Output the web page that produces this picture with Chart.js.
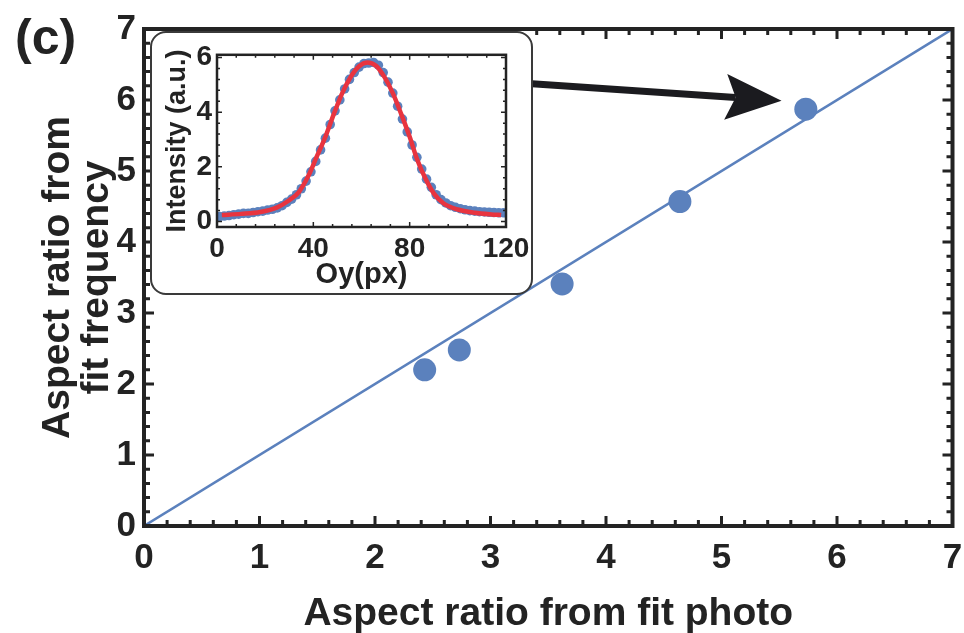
<!DOCTYPE html>
<html>
<head>
<meta charset="utf-8">
<script src="https://cdn.jsdelivr.net/npm/chart.js@4.4.1/dist/chart.umd.min.js"></script>
<style>
  body { margin: 0; background: #fff; }
  #wrap { position: relative; width: 964px; height: 633px; }
  #insetBox {
    position: absolute; left: 150px; top: 31px; width: 379px; height: 260px;
    border: 2px solid #3a3a3a; border-radius: 16px; background: #fff; overflow: hidden;
  }
</style>
</head>
<body>
<div id="wrap">
  <canvas id="mainChart" width="964" height="633"></canvas>
  <div id="insetBox"><canvas id="insetChart" width="379" height="260"></canvas></div>
</div>
<script>
/* main panel: aspect ratio from fit photo vs from fit frequency */
const photoRatio = [2.43, 2.73, 3.62, 4.64, 5.73];
const freqRatio = [2.20, 2.48, 3.41, 4.57, 5.87];
const refLineX = [0, 7];
const refLineY = [0, 7];
const mainTicks = [0, 1, 2, 3, 4, 5, 6, 7];

/* inset: intensity profile along Oy */
const profileX = [1, 3, 5, 7, 9, 11, 13, 15, 17, 19, 21, 23, 25, 27, 29, 31, 33, 35, 37, 39,
  41, 43, 45, 47, 49, 51, 53, 55, 57, 59, 61, 63, 65, 67, 69, 71, 73, 75, 77, 79,
  81, 83, 85, 87, 89, 91, 93, 95, 97, 99, 101, 103, 105, 107, 109, 111, 113, 115, 117, 119];
const profileY = [0.18, 0.20, 0.22, 0.25, 0.27, 0.30, 0.30, 0.33, 0.36, 0.38, 0.42, 0.45, 0.50, 0.58, 0.70, 0.82, 0.98, 1.20, 1.48, 1.82,
  2.20, 2.62, 3.05, 3.55, 4.05, 4.45, 4.85, 5.20, 5.45, 5.65, 5.78, 5.80, 5.82, 5.72, 5.45, 5.10, 4.70, 4.22, 3.75, 3.28,
  2.80, 2.35, 1.92, 1.55, 1.25, 0.98, 0.80, 0.68, 0.58, 0.52, 0.47, 0.43, 0.40, 0.38, 0.36, 0.35, 0.34, 0.33, 0.32, 0.32];
const fitX = [2, 10, 18, 25, 30, 34, 38, 41.5, 45, 48.5, 52, 55.5, 59, 62.5, 66, 69.5, 73, 76.5, 80, 83, 86.5, 90, 94, 100, 107, 114, 118];
const fitY = [0.24, 0.28, 0.35, 0.52, 0.78, 1.08, 1.68, 2.39, 3.10, 3.93, 4.70, 5.29, 5.68, 5.82, 5.70, 5.29, 4.70, 3.93, 3.10, 2.30, 1.58, 1.03, 0.67, 0.44, 0.32, 0.26, 0.24];
const insetXTicks = [0, 40, 80, 120];
const insetYTicks = [0, 2, 4, 6];

const arrowFrom = { x: 3.36, y: 6.23 };
const arrowTo = { x: 5.52, y: 5.99 };

const ink = '#232323';
const blue = '#5b81bd';
const red = '#e8343f';
const family = "'Liberation Sans', Arial, Helvetica, sans-serif";

const toPoints = (xs, ys) => xs.map((x, i) => ({ x: x, y: ys[i] }));

// frame round the plot area with inward ticks on all four sides
const frameTicks = {
  id: 'frameTicks',
  afterDatasetsDraw(chart, args, o) {
    const { ctx, chartArea: a, scales: { x, y } } = chart;
    const isMajor = (v, step) => Math.abs(v / step - Math.round(v / step)) < 1e-6;
    ctx.save();
    ctx.strokeStyle = ink;
    ctx.lineWidth = o.tickWidth;
    ctx.beginPath();
    for (let v = Math.ceil(x.min / o.xMinor) * o.xMinor; v <= x.max + 1e-9; v += o.xMinor) {
      const len = isMajor(v, o.xMajor) ? o.majorLen : o.minorLen;
      const px = x.getPixelForValue(v);
      ctx.moveTo(px, a.bottom); ctx.lineTo(px, a.bottom - len);
      ctx.moveTo(px, a.top); ctx.lineTo(px, a.top + len);
    }
    for (let v = Math.ceil(y.min / o.yMinor - 1e-6) * o.yMinor; v <= y.max + 1e-9; v += o.yMinor) {
      const len = isMajor(v, o.yMajor) ? o.majorLen : o.minorLen;
      const py = y.getPixelForValue(v);
      ctx.moveTo(a.left, py); ctx.lineTo(a.left + len, py);
      ctx.moveTo(a.right, py); ctx.lineTo(a.right - len, py);
    }
    ctx.stroke();
    ctx.lineWidth = o.frameWidth;
    ctx.strokeRect(a.left, a.top, a.right - a.left, a.bottom - a.top);
    ctx.restore();
  }
};

// thick arrow from the inset towards the last point
const arrowPlugin = {
  id: 'arrow',
  afterDatasetsDraw(chart) {
    const { ctx, scales: { x, y } } = chart;
    const x0 = x.getPixelForValue(arrowFrom.x), y0 = y.getPixelForValue(arrowFrom.y);
    const x1 = x.getPixelForValue(arrowTo.x), y1 = y.getPixelForValue(arrowTo.y);
    const ang = Math.atan2(y1 - y0, x1 - x0);
    const ux = Math.cos(ang), uy = Math.sin(ang);
    const nx = -uy, ny = ux;
    const headLen = 56, headHalf = 23, notch = 10;
    const bx = x1 - ux * headLen, by = y1 - uy * headLen;
    ctx.save();
    ctx.strokeStyle = '#1b1b1f';
    ctx.fillStyle = '#1b1b1f';
    ctx.lineWidth = 7;
    ctx.beginPath();
    ctx.moveTo(x0, y0);
    ctx.lineTo(bx + ux * notch, by + uy * notch);
    ctx.stroke();
    ctx.beginPath();
    ctx.moveTo(x1, y1);
    ctx.lineTo(bx + nx * headHalf, by + ny * headHalf);
    ctx.lineTo(bx + ux * notch, by + uy * notch);
    ctx.lineTo(bx - nx * headHalf, by - ny * headHalf);
    ctx.closePath();
    ctx.fill();
    ctx.restore();
  }
};

new Chart(document.getElementById('mainChart'), {
  type: 'scatter',
  data: {
    datasets: [{
      label: 'Aspect ratio',
      data: toPoints(photoRatio, freqRatio),
      backgroundColor: blue,
      borderColor: blue,
      pointRadius: 11.5,
      borderWidth: 0
    }, {
      label: 'y = x',
      data: toPoints(refLineX, refLineY),
      showLine: true,
      borderColor: blue,
      borderWidth: 2.5,
      pointRadius: 0
    }]
  },
  options: {
    responsive: false,
    animation: false,
    layout: { padding: { left: 15, right: 11, top: 0, bottom: 0 } },
    plugins: {
      legend: { display: false },
      tooltip: { enabled: false },
      title: {
        display: true, text: '(c)', align: 'start', color: ink,
        font: { family: family, size: 50, weight: 'bold', lineHeight: 1 },
        padding: { top: 13, bottom: -36 }
      },
      frameTicks: { tickWidth: 3, frameWidth: 4, majorLen: 10, minorLen: 6, xMajor: 1, xMinor: 0.2, yMajor: 1, yMinor: 0.2 }
    },
    scales: {
      x: {
        min: 0, max: 7,
        afterBuildTicks: s => { s.ticks = mainTicks.map(v => ({ value: v })); },
        afterFit: s => { s.height = 107; s.paddingLeft = 0; s.paddingRight = 0; },
        grid: { display: false, drawTicks: false },
        border: { display: false },
        ticks: { color: ink, padding: 11, font: { family: family, size: 35, weight: 'bold' } },
        title: {
          display: true, text: 'Aspect ratio from fit photo', color: ink,
          font: { family: family, size: 39, weight: 'bold', lineHeight: 1.1 },
          padding: { top: 0, bottom: -3 }
        }
      },
      y: {
        min: 0, max: 7,
        afterBuildTicks: s => { s.ticks = mainTicks.map(v => ({ value: v })); },
        afterFit: s => { s.width = 129; },
        grid: { display: false, drawTicks: false },
        border: { display: false },
        ticks: { color: ink, padding: 8, font: { family: family, size: 35, weight: 'bold' } },
        title: {
          display: true, text: ['Aspect ratio from', 'fit frequency'], color: ink,
          font: { family: family, size: 39, weight: 'bold', lineHeight: 1.0 },
          padding: { top: 24, bottom: 0 }
        }
      }
    }
  },
  plugins: [arrowPlugin, frameTicks]
});

new Chart(document.getElementById('insetChart'), {
  type: 'scatter',
  data: {
    datasets: [{
      label: 'Fit',
      data: toPoints(fitX, fitY),
      showLine: true,
      borderColor: red,
      borderWidth: 4.5,
      pointRadius: 0,
      cubicInterpolationMode: 'monotone'
    }, {
      label: 'Profile',
      data: toPoints(profileX, profileY),
      backgroundColor: blue,
      pointRadius: 4.8,
      borderWidth: 0
    }]
  },
  options: {
    responsive: false,
    animation: false,
    layout: { padding: { left: 0, right: 25, top: 19, bottom: 0 } },
    plugins: {
      legend: { display: false },
      tooltip: { enabled: false },
      frameTicks: { tickWidth: 1.5, frameWidth: 2.5, majorLen: 5, minorLen: 3, xMajor: 40, xMinor: 8, yMajor: 2, yMinor: 0.4 }
    },
    scales: {
      x: {
        min: 0, max: 120,
        afterBuildTicks: s => { s.ticks = insetXTicks.map(v => ({ value: v })); },
        afterFit: s => { s.height = 66; s.paddingLeft = 0; s.paddingRight = 0; },
        grid: { display: false, drawTicks: false },
        border: { display: false },
        ticks: { color: ink, padding: 5, maxRotation: 0, font: { family: family, size: 28, weight: 'bold' } },
        title: {
          display: true, text: 'Oy(px)', color: ink,
          font: { family: family, size: 29, weight: 'bold', lineHeight: 1.1 },
          padding: { top: 0, bottom: 2 }
        }
      },
      y: {
        min: -0.2, max: 6.1,
        afterBuildTicks: s => { s.ticks = insetYTicks.map(v => ({ value: v })); },
        afterFit: s => { s.width = 65; },
        grid: { display: false, drawTicks: false },
        border: { display: false },
        ticks: { color: ink, padding: 5, font: { family: family, size: 28, weight: 'bold' } },
        title: {
          display: true, text: 'Intensity (a.u.)', color: ink,
          font: { family: family, size: 27, weight: 'bold', lineHeight: 1.1 },
          padding: { top: 11, bottom: 0 }
        }
      }
    }
  },
  plugins: [frameTicks]
});
</script>
</body>
</html>
